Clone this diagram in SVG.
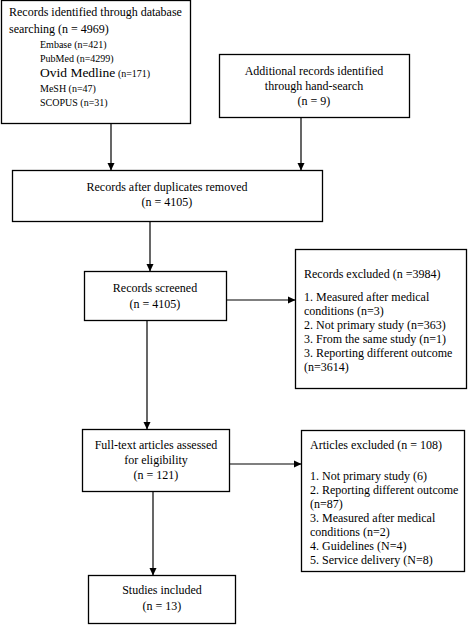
<svg xmlns="http://www.w3.org/2000/svg" width="473" height="625" viewBox="0 0 473 625">
<defs>
<style>
rect{fill:#fff;stroke:#000;stroke-width:1.3}
text{font-family:'Liberation Serif','Times New Roman','DejaVu Serif',serif;font-size:12px;fill:#000}
.c{text-anchor:middle}
.s{font-size:10px}
.m{font-size:13.5px}
line{stroke:#000;stroke-width:1.2}
</style>
<marker id="ah" markerWidth="8" markerHeight="8" refX="7" refY="4" orient="auto" markerUnits="userSpaceOnUse">
<path d="M0,0.5 L7.5,4 L0,7.5 Z" fill="#000"/>
</marker>
</defs>
<rect width="473" height="625" style="stroke:none"/>
<g id="connectors">
<line x1="111" y1="124" x2="111" y2="170" marker-end="url(#ah)"/>
<line x1="301" y1="118" x2="301" y2="170" marker-end="url(#ah)"/>
<line x1="150" y1="222" x2="150" y2="271" marker-end="url(#ah)"/>
<line x1="227" y1="300" x2="295" y2="300" marker-end="url(#ah)"/>
<line x1="147" y1="321" x2="147" y2="429" marker-end="url(#ah)"/>
<line x1="230" y1="464" x2="301" y2="464" marker-end="url(#ah)"/>
<line x1="153" y1="492" x2="153" y2="575" marker-end="url(#ah)"/>
</g>
<g id="identified" font-family="Liberation Serif, serif">
<rect x="1.5" y="0.5" width="189" height="123"/>
<text x="9" y="16">Records identified through database</text>
<text x="9" y="33">searching (n = 4969)</text>
<text x="40" y="48" class="s">Embase (n=421)</text>
<text x="40" y="62" class="s">PubMed (n=4299)</text>
<text x="40" y="77"><tspan class="m">Ovid Medline</tspan><tspan class="s"> (n=171)</tspan></text>
<text x="40" y="92" class="s">MeSH (n=47)</text>
<text x="40" y="106" class="s">SCOPUS (n=31)</text>
</g>
<g id="additional">
<rect x="219.5" y="54.5" width="190" height="63"/>
<text x="314" y="75" class="c">Additional records identified</text>
<text x="314" y="90" class="c">through hand-search</text>
<text x="314" y="105" class="c">(n = 9)</text>
</g>
<g id="duplicates">
<rect x="12.5" y="170.5" width="310" height="51"/>
<text x="167" y="191" class="c">Records after duplicates removed</text>
<text x="167" y="206" class="c">(n = 4105)</text>
</g>
<g id="screened">
<rect x="84.5" y="271.5" width="142" height="49"/>
<text x="155" y="292" class="c">Records screened</text>
<text x="155" y="308" class="c">(n = 4105)</text>
</g>
<g id="records-excluded">
<rect x="295.5" y="249.5" width="171" height="139"/>
<text x="304" y="278">Records excluded (n =3984)</text>
<text x="304" y="301">1. Measured after medical</text>
<text x="304" y="315">conditions (n=3)</text>
<text x="304" y="329">2. Not primary study (n=363)</text>
<text x="304" y="343">3. From the same study (n=1)</text>
<text x="304" y="357">3. Reporting different outcome</text>
<text x="304" y="371">(n=3614)</text>
</g>
<g id="fulltext">
<rect x="82.5" y="429.5" width="147" height="62"/>
<text x="156" y="449" class="c">Full-text articles assessed</text>
<text x="156" y="464" class="c">for eligibility</text>
<text x="156" y="479" class="c">(n = 121)</text>
</g>
<g id="articles-excluded">
<rect x="301.5" y="430.5" width="163" height="141"/>
<text x="310" y="449">Articles excluded (n = 108)</text>
<text x="310" y="480">1. Not primary study (6)</text>
<text x="310" y="494">2. Reporting different outcome</text>
<text x="310" y="508">(n=87)</text>
<text x="310" y="522">3. Measured after medical</text>
<text x="310" y="536">conditions (n=2)</text>
<text x="310" y="550">4. Guidelines (N=4)</text>
<text x="310" y="564">5. Service delivery (N=8)</text>
</g>
<g id="included">
<rect x="88.5" y="575.5" width="147" height="48"/>
<text x="162" y="594" class="c">Studies included</text>
<text x="162" y="610" class="c">(n = 13)</text>
</g>
</svg>
